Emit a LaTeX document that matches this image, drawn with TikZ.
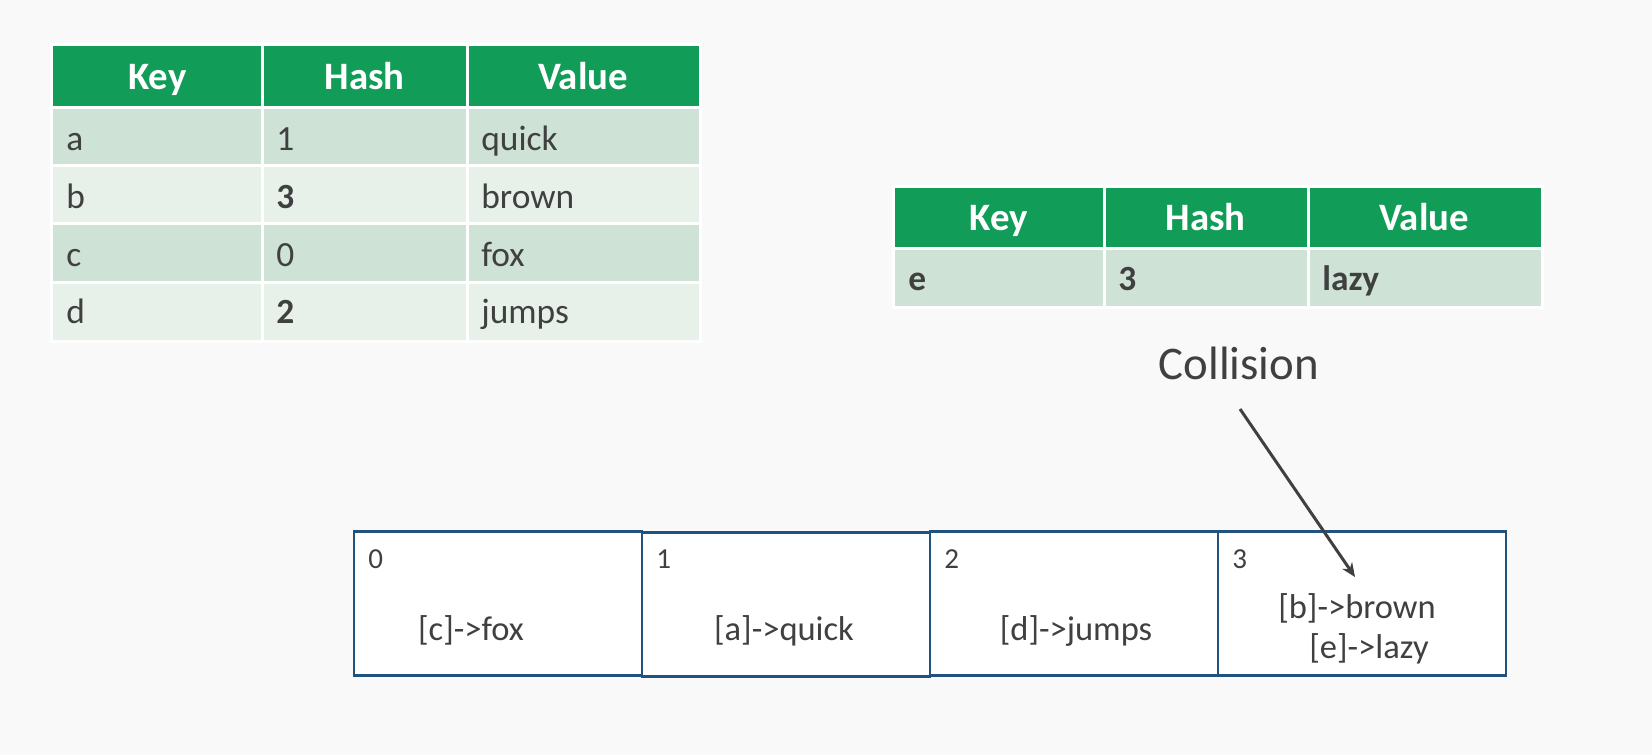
\documentclass[tikz,border=0pt]{standalone}
\usepackage{fontspec}
\setmainfont{Carlito}
\usetikzlibrary{arrows.meta}
\definecolor{bg}{RGB}{249,249,249}
\definecolor{hdrgreen}{RGB}{17,156,87}
\definecolor{rowdark}{RGB}{206,226,214}
\definecolor{rowlight}{RGB}{231,241,234}
\definecolor{txtgray}{RGB}{64,64,64}
\definecolor{boxblue}{RGB}{33,82,125}
\tikzset{
  hdr/.style={fill=hdrgreen, draw=white, line width=1.5pt},
  rowA/.style={fill=rowdark, draw=white, line width=1.5pt},
  rowB/.style={fill=rowlight, draw=white, line width=1.5pt},
  htext/.style={text=white, font=\fontsize{19.4}{22}\selectfont\bfseries, anchor=base, inner sep=0pt},
  btext/.style={text=txtgray, font=\fontsize{17.7}{21}\selectfont, anchor=base west, inner sep=0pt},
  bold/.style={font=\fontsize{17.7}{21}\selectfont\bfseries},
  bucket/.style={draw=boxblue, fill=white, line width=1.4pt, minimum width=144pt, minimum height=72pt, inner sep=0pt},
  idx/.style={text=txtgray, font=\fontsize{14.5}{17}\selectfont, anchor=base west, inner sep=0pt},
  entry/.style={text=txtgray, font=\fontsize{17.25}{20}\selectfont, anchor=base, inner sep=0pt},
  note/.style={text=txtgray, font=\fontsize{23.4}{28}\selectfont, anchor=base, inner sep=0pt},
  pointer/.style={draw=txtgray, line width=1.5pt, -{Stealth[length=7pt,width=6pt]}}
}
\begin{document}
\begin{tikzpicture}[x=0.5pt,y=-0.5pt]
\useasboundingbox (0,0) rectangle (1652,755);
\fill[bg] (0,0) rectangle (1652,755);

% ---- Table 1 ----
\path[hdr] (51.5,44.5) rectangle (262,107.5);
\path[hdr] (262,44.5) rectangle (467,107.5);
\path[hdr] (467,44.5) rectangle (700,107.5);
\path[rowA] (51.5,107.5) rectangle (262,165.75);
\path[rowA] (262,107.5) rectangle (467,165.75);
\path[rowA] (467,107.5) rectangle (700,165.75);
\path[rowB] (51.5,165.75) rectangle (262,223.75);
\path[rowB] (262,165.75) rectangle (467,223.75);
\path[rowB] (467,165.75) rectangle (700,223.75);
\path[rowA] (51.5,223.75) rectangle (262,282.75);
\path[rowA] (262,223.75) rectangle (467,282.75);
\path[rowA] (467,223.75) rectangle (700,282.75);
\path[rowB] (51.5,282.75) rectangle (262,341.5);
\path[rowB] (262,282.75) rectangle (467,341.5);
\path[rowB] (467,282.75) rectangle (700,341.5);

\node[htext] (t1k) at (157.5,89) {Key};
\node[htext] (t1h) at (364.5,89) {Hash};
\node[htext] (t1v) at (583,89) {Value};

\node[btext] (t1a1) at (66,150) {a};
\node[btext] (t1a2) at (276,150) {1};
\node[btext] (t1a3) at (481,150) {quick};
\node[btext] (t1b1) at (66,208.3) {b};
\node[btext,bold] (t1b2) at (276,208.3) {3};
\node[btext] (t1b3) at (481,208.3) {brown};
\node[btext] (t1c1) at (66,266.7) {c};
\node[btext] (t1c2) at (276,266.7) {0};
\node[btext] (t1c3) at (481,266.7) {fox};
\node[btext] (t1d1) at (66,323.3) {d};
\node[btext,bold] (t1d2) at (276,323.3) {2};
\node[btext] (t1d3) at (481,323.3) {jumps};

% ---- Table 2 ----
\path[hdr] (893,186) rectangle (1104,248.7);
\path[hdr] (1104,186) rectangle (1308,248.7);
\path[hdr] (1308,186) rectangle (1542,248.7);
\path[rowA] (893,248.7) rectangle (1104,307);
\path[rowA] (1104,248.7) rectangle (1308,307);
\path[rowA] (1308,248.7) rectangle (1542,307);

\node[htext] (t2k) at (998.75,230) {Key};
\node[htext] (t2h) at (1205.5,230) {Hash};
\node[htext] (t2v) at (1424,230) {Value};
\node[btext,bold] (t2e1) at (908,290) {e};
\node[btext,bold] (t2e2) at (1118,290) {3};
\node[btext,bold] (t2e3) at (1322,290) {lazy};

% ---- Collision ----
\node[note] (coll) at (1239,379) {Collision};

% ---- Buckets ----
\node[bucket] (b0) at (498,603.5) {};
\node[bucket] (b1) at (786,604.5) {};
\node[bucket] (b2) at (1074,603.5) {};
\node[bucket] (b3) at (1362,603.5) {};

\node[idx] (l0) at (368,568) {0};
\node[idx] (l1) at (656,568) {1};
\node[idx] (l2) at (944,568) {2};
\node[idx] (l3) at (1232,568) {3};

\node[entry] (e0) at (471,640) {[c]->fox};
\node[entry] (e1) at (784,640) {[a]->quick};
\node[entry] (e2) at (1076,640) {[d]->jumps};
\node[entry] (e3a) at (1357,618) {[b]->brown};
\node[entry] (e3b) at (1369,658) {[e]->lazy};

% ---- Arrow ----
\coordinate (arrS) at (1240,409);
\coordinate (arrE) at (1355,577);
\draw[pointer] (arrS) -- (arrE);
\end{tikzpicture}
\end{document}
